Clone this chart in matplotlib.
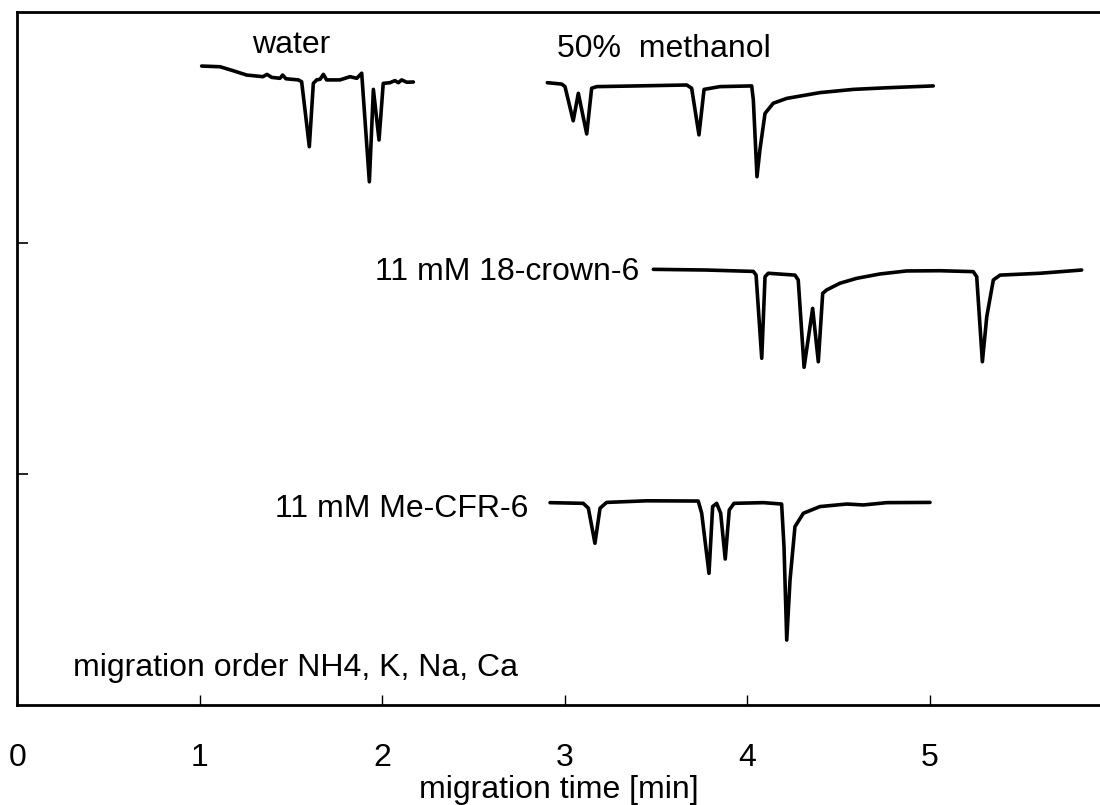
import matplotlib
matplotlib.use("Agg")
import matplotlib.pyplot as plt

# Electropherograms (time in min, signal in arbitrary units)
water_t = [1.009, 1.110, 1.181, 1.256, 1.345, 1.367, 1.393, 1.438, 1.453, 1.471,
           1.539, 1.557, 1.599, 1.621, 1.639, 1.658, 1.676, 1.694, 1.767, 1.822,
           1.859, 1.886, 1.928, 1.950, 1.981, 2.004, 2.041, 2.068, 2.087, 2.105,
           2.133, 2.169]
water_s = [2.766, 2.763, 2.746, 2.727, 2.720, 2.730, 2.717, 2.713, 2.727, 2.711,
           2.706, 2.698, 2.417, 2.691, 2.706, 2.709, 2.730, 2.706, 2.706, 2.720,
           2.713, 2.735, 2.265, 2.665, 2.446, 2.691, 2.694, 2.703, 2.694, 2.706,
           2.696, 2.697]

meoh_t = [2.903, 2.982, 3.000, 3.045, 3.073, 3.119, 3.146, 3.174, 3.393, 3.667,
          3.694, 3.734, 3.762, 3.849, 4.023, 4.032, 4.052, 4.068, 4.096, 4.141,
          4.215, 4.397, 4.580, 4.763, 5.018]
meoh_s = [2.694, 2.688, 2.677, 2.529, 2.648, 2.472, 2.670, 2.677, 2.680, 2.684,
          2.670, 2.468, 2.665, 2.677, 2.680, 2.619, 2.287, 2.403, 2.561, 2.605,
          2.626, 2.651, 2.665, 2.672, 2.680]

crown_t = [3.484, 3.776, 4.032, 4.047, 4.078, 4.096, 4.114, 4.260, 4.278, 4.310,
           4.357, 4.388, 4.412, 4.434, 4.507, 4.598, 4.726, 4.872, 5.055, 5.237,
           5.256, 5.287, 5.311, 5.347, 5.384, 5.603, 5.831]
crown_s = [1.886, 1.883, 1.877, 1.861, 1.501, 1.854, 1.869, 1.861, 1.840, 1.462,
           1.717, 1.486, 1.782, 1.797, 1.826, 1.847, 1.866, 1.879, 1.880, 1.876,
           1.854, 1.486, 1.681, 1.840, 1.861, 1.869, 1.883]

mecfr_t = [2.918, 3.100, 3.128, 3.164, 3.192, 3.228, 3.448, 3.730, 3.749, 3.789,
           3.809, 3.831, 3.853, 3.878, 3.900, 3.926, 4.087, 4.187, 4.200, 4.215,
           4.233, 4.260, 4.306, 4.397, 4.544, 4.635, 4.763, 5.000]
mecfr_s = [0.876, 0.873, 0.852, 0.700, 0.852, 0.877, 0.884, 0.883, 0.830, 0.570,
           0.859, 0.873, 0.830, 0.632, 0.844, 0.873, 0.876, 0.870, 0.685, 0.281,
           0.541, 0.772, 0.830, 0.859, 0.870, 0.866, 0.876, 0.877]

x_ticks = [0, 1, 2, 3, 4, 5]
y_ticks = [1, 2]

plt.rcParams["font.family"] = ["Liberation Sans", "DejaVu Sans"]

fig = plt.figure(figsize=(11, 8.05), dpi=100)
ax = fig.add_axes([17.5 / 1100, 1 - 705 / 805, 1 - 17.5 / 1100, 693 / 805])

lw = 2.6
for t, s in [(water_t, water_s), (meoh_t, meoh_s),
             (crown_t, crown_s), (mecfr_t, mecfr_s)]:
    ax.plot(t, s, color="black", lw=lw, solid_joinstyle="round",
            solid_capstyle="round")

fs = 23
ax.text(1.501, 2.822, "water", fontsize=fs, ha="center", va="baseline")
ax.text(2.956, 2.805, "50%  methanol", fontsize=fs, ha="left", va="baseline")
ax.text(1.959, 1.840, "11 mM 18-crown-6", fontsize=fs, ha="left", va="baseline")
ax.text(1.411, 0.814, "11 mM Me-CFR-6", fontsize=fs, ha="left", va="baseline")
ax.text(0.304, 0.126, "migration order NH4, K, Na, Ca", fontsize=fs,
        ha="left", va="baseline")

ax.set_xlim(0, 1082.5 / 182.5)
ax.set_ylim(0, 3)
ax.set_xticks(x_ticks)
ax.set_yticks(y_ticks)
ax.set_yticklabels([])
ax.tick_params(axis="x", direction="in", length=7, width=1, pad=27, labelsize=fs)
ax.tick_params(axis="y", direction="in", length=8, width=1.2)
ax.set_xlabel("migration time [min]", fontsize=fs, labelpad=2)

ax.spines["right"].set_visible(False)
for side in ["left", "top", "bottom"]:
    ax.spines[side].set_linewidth(2)

fig.savefig("out.png", dpi=100)
